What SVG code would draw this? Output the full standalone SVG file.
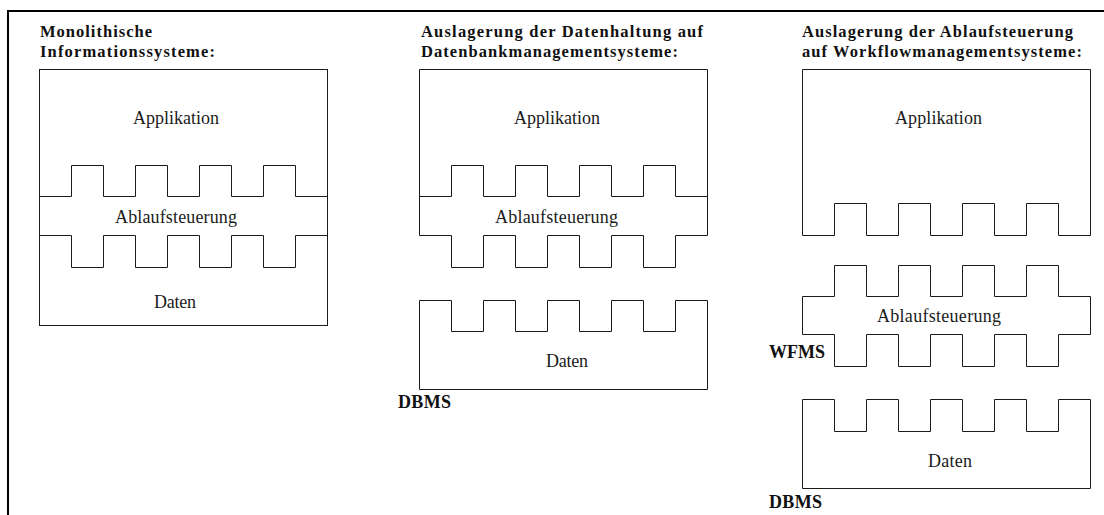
<svg xmlns="http://www.w3.org/2000/svg" width="1104" height="515" viewBox="0 0 1104 515">
<style>
.shape{fill:none;stroke:#1a1a1a;stroke-width:1}
.frame{fill:none;stroke:#000;stroke-width:2}
.title{font-family:"Liberation Serif","Times New Roman",serif;font-weight:bold;font-size:16.5px;fill:#111}
.lbl{font-family:"Liberation Serif","Times New Roman",serif;font-size:18px;fill:#1a1a1a}
.sys{font-family:"Liberation Serif","Times New Roman",serif;font-weight:bold;font-size:18px;fill:#111}
</style>
<rect width="1104" height="515" fill="#fff"/>
<g id="frame">
<path class="frame" d="M8,515 V11 H1104"/>
</g>

<g id="panel-monolith">
<text class="title" x="40" y="37" textLength="112" lengthAdjust="spacing">Monolithische</text>
<text class="title" x="40" y="57" textLength="175" lengthAdjust="spacing">Informationssysteme:</text>
<g id="mono-box">
<rect class="shape" x="39.5" y="69.5" width="288" height="256"/>
<path class="shape" d="M39.5,196.5 H71.5 V165.5 H103.5 V196.5 H135.5 V165.5 H167.5 V196.5 H199.5 V165.5 H231.5 V196.5 H263.5 V165.5 H295.5 V196.5 H327.5"/>
<path class="shape" d="M39.5,235.5 H71.5 V267.5 H103.5 V235.5 H135.5 V267.5 H167.5 V235.5 H199.5 V267.5 H231.5 V235.5 H263.5 V267.5 H295.5 V235.5 H327.5"/>
<text class="lbl" x="133" y="124" textLength="86" lengthAdjust="spacing">Applikation</text>
<text class="lbl" x="115" y="223" textLength="122" lengthAdjust="spacing">Ablaufsteuerung</text>
<text class="lbl" x="154" y="308" textLength="42" lengthAdjust="spacing">Daten</text>
</g>
</g>

<g id="panel-dbms">
<text class="title" x="421" y="37" textLength="282" lengthAdjust="spacing">Auslagerung der Datenhaltung  auf</text>
<text class="title" x="421" y="57" textLength="257" lengthAdjust="spacing">Datenbankmanagementsysteme:</text>
<g id="dbms-app">
<path class="shape" d="M419.5,235.5 V69.5 H707.5 V235.5 H675.5 V267.5 H643.5 V235.5 H611.5 V267.5 H579.5 V235.5 H547.5 V267.5 H515.5 V235.5 H483.5 V267.5 H451.5 V235.5 Z"/>
<path class="shape" d="M419.5,196.5 H451.5 V165.5 H483.5 V196.5 H515.5 V165.5 H547.5 V196.5 H579.5 V165.5 H611.5 V196.5 H643.5 V165.5 H675.5 V196.5 H707.5"/>
<text class="lbl" x="514" y="124" textLength="86" lengthAdjust="spacing">Applikation</text>
<text class="lbl" x="495" y="223" textLength="123" lengthAdjust="spacing">Ablaufsteuerung</text>
</g>
<g id="dbms-daten">
<path class="shape" d="M419.5,300.5 H451.5 V331.5 H483.5 V300.5 H515.5 V331.5 H547.5 V300.5 H579.5 V331.5 H611.5 V300.5 H643.5 V331.5 H675.5 V300.5 H707.5 V389.5 H419.5 Z"/>
<text class="lbl" x="546" y="367" textLength="42" lengthAdjust="spacing">Daten</text>
<text class="sys" x="398" y="408" textLength="53" lengthAdjust="spacing">DBMS</text>
</g>
</g>

<g id="panel-wfms">
<text class="title" x="802" y="37" textLength="271" lengthAdjust="spacing">Auslagerung der Ablaufsteuerung</text>
<text class="title" x="802" y="57" textLength="280" lengthAdjust="spacing">auf Workflowmanagementsysteme:</text>
<g id="wfms-app">
<path class="shape" d="M802.5,69.5 H1090.5 V235.5 H1058.5 V203.5 H1026.5 V235.5 H994.5 V203.5 H962.5 V235.5 H930.5 V203.5 H898.5 V235.5 H866.5 V203.5 H834.5 V235.5 H802.5 Z"/>
<text class="lbl" x="895" y="124" textLength="87" lengthAdjust="spacing">Applikation</text>
</g>
<g id="wfms-ablauf">
<path class="shape" d="M802.5,296.5 H834.5 V265.5 H866.5 V296.5 H898.5 V265.5 H930.5 V296.5 H962.5 V265.5 H994.5 V296.5 H1026.5 V265.5 H1058.5 V296.5 H1090.5 V334.5 H1058.5 V366.5 H1026.5 V334.5 H994.5 V366.5 H962.5 V334.5 H930.5 V366.5 H898.5 V334.5 H866.5 V366.5 H834.5 V334.5 H802.5 Z"/>
<text class="lbl" x="877" y="322" textLength="124" lengthAdjust="spacing">Ablaufsteuerung</text>
<text class="sys" x="769" y="358" textLength="56" lengthAdjust="spacing">WFMS</text>
</g>
<g id="wfms-daten">
<path class="shape" d="M802.5,399.5 H834.5 V431.5 H866.5 V399.5 H898.5 V431.5 H930.5 V399.5 H962.5 V431.5 H994.5 V399.5 H1026.5 V431.5 H1058.5 V399.5 H1090.5 V488.5 H802.5 Z"/>
<text class="lbl" x="928" y="467" textLength="44" lengthAdjust="spacing">Daten</text>
<text class="sys" x="769" y="508" textLength="53" lengthAdjust="spacing">DBMS</text>
</g>
</g>
</svg>
